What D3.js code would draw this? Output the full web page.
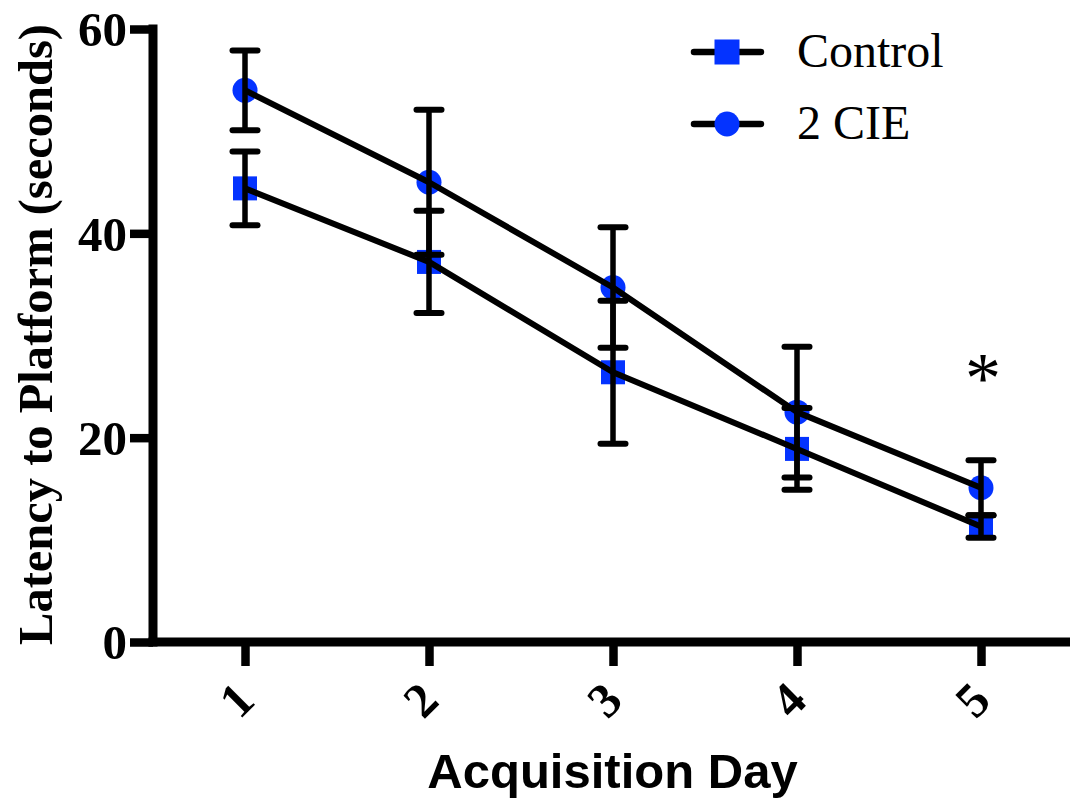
<!DOCTYPE html>
<html>
<head>
<meta charset="utf-8">
<script src="https://cdn.jsdelivr.net/npm/d3@7"></script>
<style>
  html, body { margin: 0; padding: 0; background: #fff; }
  svg { display: block; }
</style>
</head>
<body>
<svg id="chart" width="1070" height="802"></svg>
<script>
// ---- data ----
const days = [1, 2, 3, 4, 5];
const controlMean = [44.4, 37.2, 26.4, 18.9, 11.3];
const controlErr  = [3.6, 5.0, 7.0, 4.0, 1.1];
const cieMean     = [54.0, 45.0, 34.7, 22.5, 15.1];
const cieErr      = [3.9, 7.1, 5.9, 6.4, 2.7];
const yTicks = [0, 20, 40, 60];
const seriesNames = ["Control", "2 CIE"];
const xTitle = "Acquisition Day";
const yTitle = "Latency to Platform (seconds)";
const significantDays = [5];

const BLUE = "#0433ff";
const svg = d3.select("#chart");

const x = d3.scaleLinear().domain([0.5, 5.5]).range([153, 1073]);
const y = d3.scaleLinear().domain([0, 60]).range([642, 29]);

// ---- axes ----
const yAxis = d3.axisLeft(y).tickValues(yTicks).tickSize(23).tickSizeOuter(0).tickPadding(3);
const gy = svg.append("g").attr("transform", `translate(${x(0.5)},0)`).call(yAxis);
gy.select(".domain").remove();
gy.selectAll(".tick line").attr("stroke", "#000").attr("stroke-width", 8.5);
gy.selectAll(".tick text")
  .attr("font-family", "'Liberation Serif', 'Times New Roman', serif")
  .attr("font-weight", "bold").attr("font-size", 49).attr("fill", "#000")
  .attr("dy", "0.34em");

const xAxis = d3.axisBottom(x).tickValues(days).tickSize(24).tickSizeOuter(0).tickFormat(d3.format("d"));
const gx = svg.append("g").attr("transform", `translate(0,${y(0)})`).call(xAxis);
gx.select(".domain").remove();
gx.selectAll(".tick line").attr("stroke", "#000").attr("stroke-width", 8.5);
gx.selectAll(".tick text")
  .attr("font-family", "'Liberation Serif', 'Times New Roman', serif")
  .attr("font-weight", "bold").attr("font-size", 49).attr("fill", "#000")
  .attr("text-anchor", "middle").attr("dominant-baseline", "central")
  .attr("y", 0).attr("dy", null)
  .attr("transform", "translate(-9,58) rotate(-45)");

// axis lines
svg.append("line")
  .attr("x1", x(0.5)).attr("x2", x(0.5)).attr("y1", y(60)).attr("y2", y(0))
  .attr("stroke", "#000").attr("stroke-width", 9).attr("stroke-linecap", "square");
svg.append("line")
  .attr("x1", x(0.5)).attr("x2", x(5.5)).attr("y1", y(0)).attr("y2", y(0))
  .attr("stroke", "#000").attr("stroke-width", 9).attr("stroke-linecap", "square");

// ---- axis titles ----
svg.append("text")
  .attr("x", (x(0.5) + 1070) / 2 + 1).attr("y", 788)
  .attr("text-anchor", "middle")
  .attr("font-family", "'Liberation Sans', Arial, sans-serif")
  .attr("font-weight", "bold").attr("font-size", 49)
  .text(xTitle);

svg.append("text")
  .attr("transform", `translate(52,${(y(0) + y(60)) / 2 - 1}) rotate(-90)`)
  .attr("text-anchor", "middle")
  .attr("font-family", "'Liberation Serif', 'Times New Roman', serif")
  .attr("font-weight", "bold").attr("font-size", 48.5)
  .text(yTitle);

// ---- data marks ----
const series = [
  { name: seriesNames[0], mean: controlMean, err: controlErr, shape: "square" },
  { name: seriesNames[1], mean: cieMean, err: cieErr, shape: "circle" }
];

const marks = svg.append("g");
const lines = svg.append("g");
const line = d3.line().x((d, i) => x(days[i])).y(d => y(d));

series.forEach(s => {
  // markers (below lines)
  s.mean.forEach((v, i) => {
    if (s.shape === "square") {
      marks.append("rect")
        .attr("x", x(days[i]) - 12).attr("y", y(v) - 12)
        .attr("width", 24).attr("height", 24).attr("fill", BLUE);
    } else {
      marks.append("circle")
        .attr("cx", x(days[i])).attr("cy", y(v)).attr("r", 12.5).attr("fill", BLUE);
    }
  });
  // connecting line
  lines.append("path").datum(s.mean)
    .attr("d", line).attr("fill", "none")
    .attr("stroke", "#000").attr("stroke-width", 6).attr("stroke-linejoin", "round");
  // error bars
  s.mean.forEach((v, i) => {
    const cx = x(days[i]);
    const top = y(v + s.err[i]), bot = y(v - s.err[i]);
    lines.append("line").attr("x1", cx).attr("x2", cx).attr("y1", top).attr("y2", bot)
      .attr("stroke", "#000").attr("stroke-width", 5.5);
    [top, bot].forEach(yy => {
      lines.append("line").attr("x1", cx - 12.5).attr("x2", cx + 12.5).attr("y1", yy).attr("y2", yy)
        .attr("stroke", "#000").attr("stroke-width", 6).attr("stroke-linecap", "round");
    });
  });
});

// significance asterisk
significantDays.forEach(d => {
  const i = days.indexOf(d);
  svg.append("text")
    .attr("x", x(d) + 2).attr("y", y(cieMean[i] + cieErr[i]) - 58)
    .attr("text-anchor", "middle")
    .attr("font-family", "'Liberation Serif', 'Times New Roman', serif")
    .attr("font-size", 72)
    .text("*");
});

// ---- legend ----
const legend = svg.append("g");
const legendRows = [
  { name: seriesNames[0], shape: "square", cy: 52 },
  { name: seriesNames[1], shape: "circle", cy: 124 }
];
legendRows.forEach(r => {
  legend.append("line").attr("x1", 694).attr("x2", 761).attr("y1", r.cy).attr("y2", r.cy)
    .attr("stroke", "#000").attr("stroke-width", 6.5).attr("stroke-linecap", "round");
  if (r.shape === "square") {
    legend.append("rect").attr("x", 727 - 12.5).attr("y", r.cy - 12.5)
      .attr("width", 25).attr("height", 25).attr("fill", BLUE);
  } else {
    legend.append("circle").attr("cx", 727).attr("cy", r.cy).attr("r", 12.5).attr("fill", BLUE);
  }
  legend.append("text").attr("x", 797).attr("y", r.cy + 15)
    .attr("font-family", "'Liberation Serif', 'Times New Roman', serif")
    .attr("font-size", 48).text(r.name);
});
</script>
</body>
</html>
